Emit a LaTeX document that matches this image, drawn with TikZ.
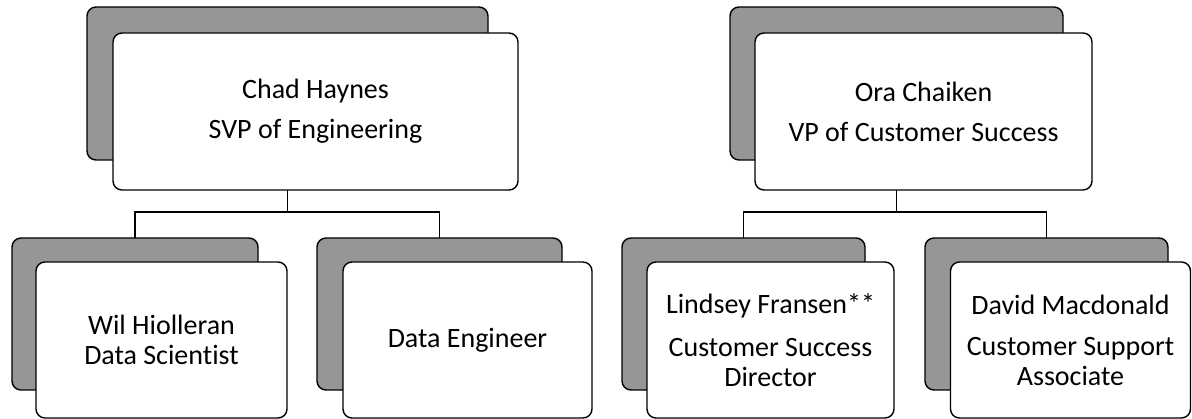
\documentclass[tikz,border=0pt]{standalone}
\usepackage{fontspec}
\setmainfont[Ligatures={NoCommon}]{Carlito}
\definecolor{shadegray}{RGB}{150,150,150}
\begin{document}
\begin{tikzpicture}[x=1pt,y=-1pt,
  every node/.style={inner sep=0pt,outer sep=0pt},
  card/.style={draw=black,line width=1.4pt,rounded corners=9pt},
  backcard/.style={card,fill=shadegray},
  frontcard/.style={card,fill=white,align=center,
    font=\fontsize{28}{30}\selectfont},
  link/.style={draw=black,line width=1.4pt}
]
\useasboundingbox (0,0) rectangle (1192,419);

% ---- Engineering branch ----
\node[backcard,minimum width=401pt,minimum height=153pt] (engb) at (287.5,83.5) {};
\node[frontcard,minimum width=405pt,minimum height=157pt] (engf) at (315.5,111.5)
  {Chad Haynes\\[10pt]SVP of Engineering};

\node[backcard,minimum width=246pt,minimum height=152pt] (dsb) at (135,314) {};
\node[frontcard,minimum width=251pt,minimum height=156pt] (dsf) at (161.5,340)
  {Wil Hiolleran\\Data Scientist};

\node[backcard,minimum width=245pt,minimum height=152pt] (deb) at (439.5,314) {};
\node[frontcard,minimum width=249pt,minimum height=156pt] (def) at (467.5,340)
  {Data Engineer};

% ---- Customer Success branch ----
\node[backcard,minimum width=333pt,minimum height=153pt] (csb) at (896.5,83.5) {};
\node[frontcard,minimum width=337pt,minimum height=157pt] (csf) at (923.5,111.5)
  {Ora Chaiken\\[10pt]VP of Customer Success};

\node[backcard,minimum width=243pt,minimum height=152pt] (cdb) at (743.5,314) {};
\node[frontcard,minimum width=247pt,minimum height=156pt] (cdf) at (770.5,340)
  {Lindsey Fransen**\\[13pt]Customer Success\\Director};

\node[backcard,minimum width=243pt,minimum height=152pt] (sab) at (1046.5,314) {};
\node[frontcard,minimum width=240pt,minimum height=156pt] (saf) at (1070.5,340)
  {David Macdonald\\[11pt]Customer Support\\Associate};

% ---- reporting lines ----
\draw[link] (engb |- engf.south) -- ++(0,22) -| (dsb.north);
\draw[link] (engb |- engf.south) -- ++(0,22) -| (deb.north);
\draw[link] (csb |- csf.south) -- ++(0,22) -| (cdb.north);
\draw[link] (csb |- csf.south) -- ++(0,22) -| (sab.north);
\end{tikzpicture}
\end{document}
